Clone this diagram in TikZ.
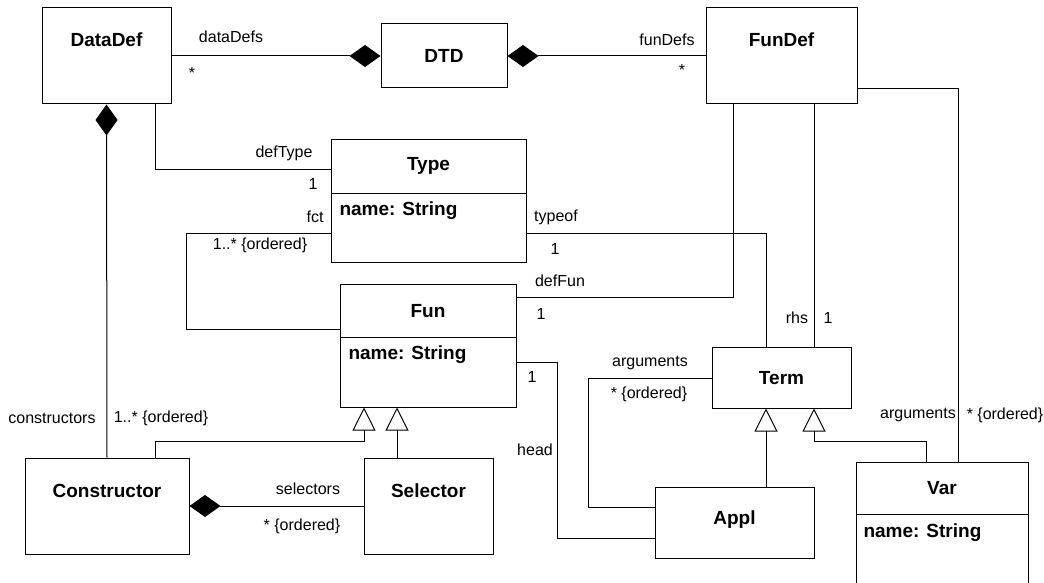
\documentclass[tikz,border=0pt]{standalone}
\usepackage{fontspec}
\setmainfont{Liberation Sans}
\usetikzlibrary{arrows.meta,positioning,calc}

\tikzset{
    cls/.style={draw, line width=1pt, inner sep=0pt},
    ttl/.style={font=\fontsize{19}{22}\selectfont\bfseries, inner sep=0pt},
    attr/.style={font=\fontsize{19}{22}\selectfont\bfseries, inner sep=0pt, anchor=west},
    lbl/.style={font=\fontsize{16}{19}\selectfont, inner sep=0pt},
    comp/.style={-{Diamond[length=31pt,width=22pt]}},
    inh/.style={-{Triangle[open,length=23pt,width=23pt,fill=white]}},
}

\begin{document}
\begin{tikzpicture}[x=1pt,y=-1pt,line width=1pt]
    \useasboundingbox (0,0) rectangle (1044,583);
    \clip (0,0) rectangle (1044,583);
    % classes
    \node[cls, minimum width=129pt, minimum height=96pt] (datadef) at (106.5,56) {};
    \node[ttl] (datadeft) at (106.5,40) {DataDef};
    \node[cls, minimum width=126pt, minimum height=64pt] (dtd) at (444,56) {};
    \node[ttl] (dtdt) at (444,56) {DTD};
    \node[cls, minimum width=151pt, minimum height=96pt] (fundef) at (781.5,56) {};
    \node[ttl] (fundeft) at (781.5,40) {FunDef};
    \node[cls, minimum width=195pt, minimum height=122pt] (type) at (428.5,201) {};
    \node[ttl] (typet) at (428.5,166) {Type};
    \draw (331,193) -- (526,193);
    \node[attr] (typea) at (339,211) {name: String};
    \node[cls, minimum width=176pt, minimum height=123pt] (fun) at (428,345.5) {};
    \node[ttl] (funt) at (428,311) {Fun};
    \draw (340,337) -- (516,337);
    \node[attr] (funa) at (348,355) {name: String};
    \node[cls, minimum width=139pt, minimum height=61pt] (term) at (781.5,377.5) {};
    \node[ttl] (termt) at (781.5,378) {Term};
    \node[cls, minimum width=164pt, minimum height=96pt] (constructor) at (107,506) {};
    \node[ttl] (constructort) at (107,491) {Constructor};
    \node[cls, minimum width=129pt, minimum height=96pt] (selector) at (428.5,506) {};
    \node[ttl] (selectort) at (428.5,491) {Selector};
    \node[cls, minimum width=159pt, minimum height=71pt] (appl) at (734.5,522.5) {};
    \node[ttl] (applt) at (734.5,520) {Appl};
    \node[cls, minimum width=172pt, minimum height=140pt] (var) at (942,532) {};
    \node[ttl] (vart) at (942,488) {Var};
    \draw (856,514) -- (1028,514);
    \node[attr] (vara) at (863,533) {name: String};

    % associations
    \draw[comp] (datadef.east) -- (dtd.west);
    \draw[comp] (fundef.west) -- (dtd.east);
    \draw ([xshift=48.5pt]datadef.south) |- ([yshift=32pt]type.west);
    \draw ([yshift=-32pt]type.west) -- ++(-144,0) |- ([yshift=16.5pt]fun.west);
    \draw ([yshift=-32pt]type.east) -| ([xshift=-15.5pt]term.north);
    \draw ([yshift=48.5pt]fun.east) -| ([xshift=-48.5pt]fundef.south);
    \draw ([xshift=32.5pt]fundef.south) -- ([xshift=32.5pt]term.north);
    \draw ([yshift=-33pt]fundef.east) -| ([xshift=16pt]var.north);
    \draw ([yshift=-16.5pt]fun.east) -- ++(41,0) |- ([yshift=-15.5pt]appl.west);
    \draw ([yshift=-0.5pt]term.west) -- ++(-123,0) |- ([yshift=15.5pt]appl.west);
    \draw[comp] (selector.west) -- (constructor.east);
    \draw[comp] (constructor.north) -- (datadef.south);

    % generalizations
    \draw[inh] ([xshift=31.5pt]appl.north) -- ([xshift=-15.5pt]term.south);
    \draw[inh] ([xshift=-16pt]var.north) -- ++(0,-20) -| ([xshift=32.5pt]term.south);
    \draw[inh] ([xshift=48pt]constructor.north) -- ++(0,-16) -| ([xshift=-64pt]fun.south);
    \draw[inh] ([xshift=-31.5pt]selector.north) -- ([xshift=-31pt]fun.south);

    % role names and multiplicities
    \node[lbl] (ldatadefs) at (231,37) {dataDefs};
    \node[lbl] (mdatadefs) at (192,73) {*};
    \node[lbl] (lfundefs) at (667,40) {funDefs};
    \node[lbl] (mfundefs) at (682,70) {*};
    \node[lbl] (ldeftype) at (284,153) {defType};
    \node[lbl] (mdeftype) at (313,184) {1};
    \node[lbl] (lfct) at (315,217) {fct};
    \node[lbl] (mfct) at (260,245) {1..* \{ordered\}};
    \node[lbl] (ltypeof) at (556,217) {typeof};
    \node[lbl] (mtypeof) at (555,249) {1};
    \node[lbl] (ldeffun) at (560,281) {defFun};
    \node[lbl] (mdeffun) at (541,314) {1};
    \node[lbl] (lrhs) at (797,318) {rhs};
    \node[lbl] (mrhs) at (828,318) {1};
    \node[lbl] (lhead) at (535,450) {head};
    \node[lbl] (mhead) at (532,377) {1};
    \node[lbl] (largs) at (650,363) {arguments};
    \node[lbl] (margs) at (649,394) {* \{ordered\}};
    \node[lbl] (lvarargs) at (918,415) {arguments};
    \node[lbl] (mvarargs) at (1005,415) {* \{ordered\}};
    \node[lbl] (lcons) at (52,418) {constructors};
    \node[lbl] (mcons) at (161,418) {1..* \{ordered\}};
    \node[lbl] (lsel) at (308,489) {selectors};
    \node[lbl] (msel) at (302,526) {* \{ordered\}};
\end{tikzpicture}
\end{document}
